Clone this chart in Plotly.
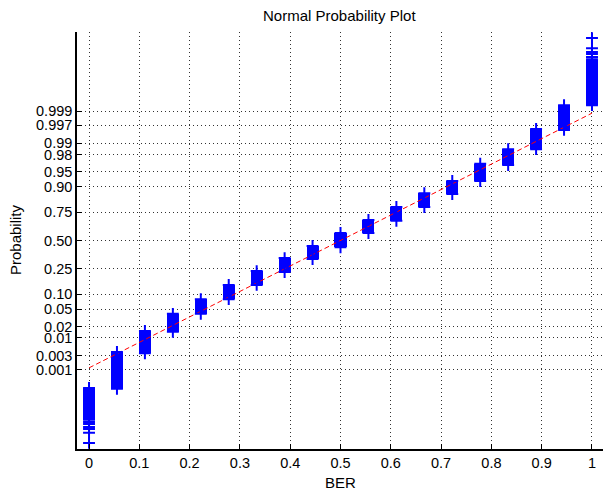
import plotly.graph_objects as go
from statistics import NormalDist

# ---------------- data ----------------
# BER levels (k/18, k = 0..18)
ber_levels = [k / 18 for k in range(19)]

# vertical extent of the dense run of points at each BER level,
# expressed as normal quantiles (probit of the plotting position)
box_lo_z = [-4.28, -3.54, -2.69, -2.18, -1.75, -1.40, -1.06, -0.75, -0.44, -0.16,
            0.18, 0.47, 0.80, 1.11, 1.42, 1.80, 2.18, 2.64, 3.23]
box_hi_z = [-3.52, -2.66, -2.16, -1.75, -1.40, -1.06, -0.73, -0.42, -0.13, 0.18,
            0.49, 0.80, 1.13, 1.42, 1.83, 2.18, 2.66, 3.23, 4.31]

# isolated tail points (BER = 0 and BER = 1), normal quantiles
tail_x = [0, 0, 0, 0, 0, 0, 1, 1, 1, 1, 1, 1]
tail_z = [-4.33, -4.38, -4.45, -4.50, -4.59, -4.83,
          4.36, 4.38, 4.45, 4.50, 4.59, 4.83]

# reference line through the quartiles
fit_mean = 0.5
fit_std = 0.1645
fit_x = [0.0, 1.0]

# axis tick labels
prob_ticks = ["0.001", "0.003", "0.01", "0.02", "0.05", "0.10", "0.25", "0.50",
              "0.75", "0.90", "0.95", "0.98", "0.99", "0.997", "0.999"]
x_ticks = [0, 0.1, 0.2, 0.3, 0.4, 0.5, 0.6, 0.7, 0.8, 0.9, 1]
x_tick_labels = ["0", "0.1", "0.2", "0.3", "0.4", "0.5", "0.6", "0.7", "0.8", "0.9", "1"]

# ---------------- figure ----------------
nd = NormalDist()
tickvals_z = [nd.inv_cdf(float(p)) for p in prob_ticks]

BLUE = "#0000ff"
FONT = "Liberation Sans, Arial, sans-serif"

fig = go.Figure()

# fitted reference line (drawn first so the marks cover it)
fit_z = [(x - fit_mean) / fit_std for x in fit_x]
fig.add_trace(go.Scatter(
    x=fit_x, y=fit_z, mode="lines",
    line=dict(color="#ff0000", width=1, dash="5px,3px"),
    hoverinfo="skip", showlegend=False))

# dense runs of '+' markers -> solid blocks
fig.add_trace(go.Bar(
    x=ber_levels,
    y=[h - l for l, h in zip(box_lo_z, box_hi_z)],
    base=box_lo_z,
    width=0.0239,
    marker=dict(color=BLUE, line=dict(width=0)),
    showlegend=False))

# '+' markers at the ends of each run and at the tails
mk_x = ber_levels + ber_levels + tail_x
mk_y = box_lo_z + box_hi_z + tail_z
fig.add_trace(go.Scatter(
    x=mk_x, y=mk_y, mode="markers",
    marker=dict(symbol="cross-thin", size=8.5,
                line=dict(color=BLUE, width=2), color=BLUE),
    cliponaxis=False,
    showlegend=False))

L, R, T, B = 77, 0, 32, 44
W, H = 603, 493
pw, ph = W - L - R, H - T - B

fig.update_layout(
    width=W, height=H,
    margin=dict(l=L, r=R, t=T, b=B, pad=0, autoexpand=False),
    paper_bgcolor="white", plot_bgcolor="white",
    font=dict(family=FONT, size=14, color="#000000"),
    bargap=0,
    showlegend=False,
)

fig.update_xaxes(
    range=[-0.0239, 1.0219],
    tickvals=x_ticks, ticktext=x_tick_labels,
    ticks="inside", ticklen=5, tickwidth=1, tickcolor="#000000",
    showline=True, linecolor="#000000", linewidth=1.5,
    showgrid=True, gridcolor="#333333", gridwidth=1, griddash="1px,3px",
    zeroline=False, mirror=False, automargin=False,
    tickfont=dict(size=14.5),
)
fig.update_yaxes(
    range=[-4.976, 4.976],
    tickvals=tickvals_z, ticktext=prob_ticks,
    ticks="inside", ticklen=5, tickwidth=1, tickcolor="#000000",
    showline=True, linecolor="#000000", linewidth=1.5,
    showgrid=True, gridcolor="#333333", gridwidth=1, griddash="1px,3px",
    zeroline=False, mirror=False, automargin=False,
    tickfont=dict(size=14.5),
)

def px2paper(px, py):
    return (px - L) / pw, (H - B - py) / ph

tx, ty = px2paper(339.5, 15.5)
fig.add_annotation(text="Normal Probability Plot", x=tx, y=ty, xref="paper", yref="paper",
                   showarrow=False, xanchor="center", yanchor="middle",
                   font=dict(size=15, family=FONT))
bx, by = px2paper(340, 482.5)
fig.add_annotation(text="BER", x=bx, y=by, xref="paper", yref="paper",
                   showarrow=False, xanchor="center", yanchor="middle",
                   font=dict(size=15, family=FONT))
lx, ly = px2paper(15, 240)
fig.add_annotation(text="Probability", x=lx, y=ly, xref="paper", yref="paper",
                   showarrow=False, xanchor="center", yanchor="middle", textangle=-90,
                   font=dict(size=15, family=FONT))

fig.write_html(
    "out.html",
    config={"displayModeBar": False},
    post_script="document.body.style.margin='0';document.body.style.overflow='hidden';",
)
